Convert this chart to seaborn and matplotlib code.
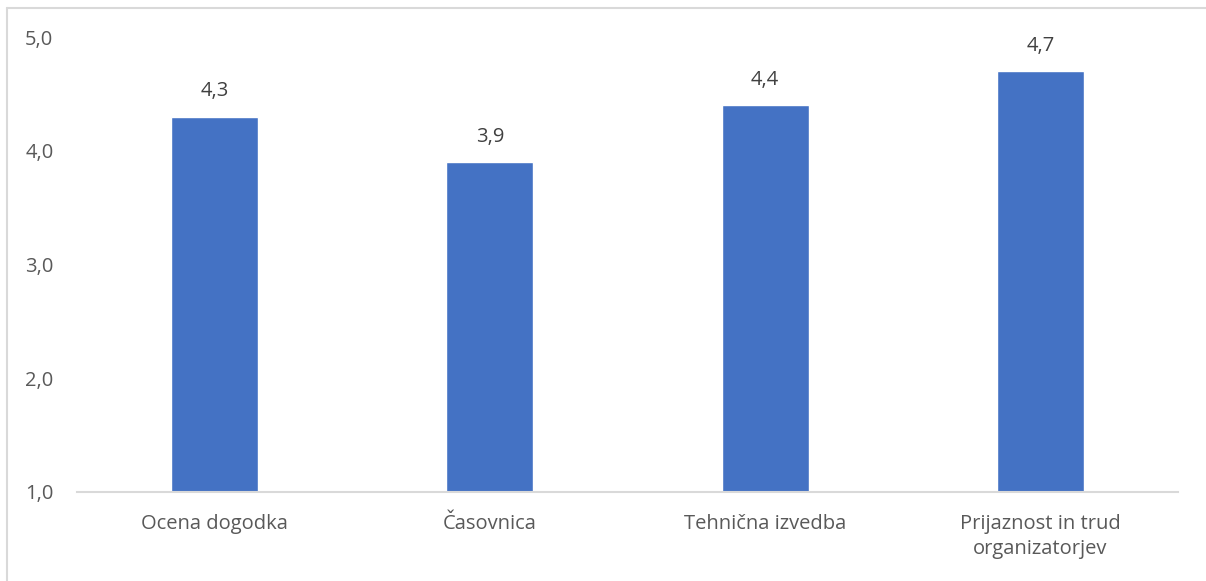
import matplotlib
matplotlib.use("Agg")
import matplotlib.pyplot as plt
import seaborn as sns
import pandas as pd
from matplotlib.ticker import FuncFormatter, FixedLocator
from matplotlib.lines import Line2D

categories = ["Ocena dogodka", "Časovnica", "Tehnična izvedba", "Prijaznost in trud\norganizatorjev"]
values = [4.3, 3.9, 4.4, 4.7]
yticks = [1.0, 2.0, 3.0, 4.0, 5.0]

sns.set_theme(style="white")
plt.rcParams['font.family'] = ['Open Sans', 'DejaVu Sans']

df = pd.DataFrame({"cat": categories, "val": values})

W, H = 1206, 581
fig = plt.figure(figsize=(W / 100, H / 100), dpi=100)
ax = fig.add_axes([77 / W, 1 - 492 / H, (1178 - 77) / W, (492 - 37) / H])

sns.barplot(data=df, x="cat", y="val", order=categories, color="#4472C4",
            saturation=1, width=0.316, ax=ax, bottom=0)

ax.set_ylim(1.0, 5.0)
ax.set_xlim(-0.5, len(categories) - 0.5)
ax.yaxis.set_major_locator(FixedLocator(yticks))
ax.yaxis.set_major_formatter(FuncFormatter(lambda v, p: f"{v:.1f}".replace(".", ",")))
ax.set_xlabel("")
ax.set_ylabel("")

FS = 14.5
for s in ["top", "right", "left"]:
    ax.spines[s].set_visible(False)
ax.spines["bottom"].set_color("#D9D9D9")
ax.spines["bottom"].set_linewidth(1.5)
ax.tick_params(axis="y", length=0, pad=17, labelsize=FS, labelcolor="#595959")
ax.tick_params(axis="x", length=0, pad=16, labelsize=FS, labelcolor="#595959")
for lbl in ax.get_xticklabels():
    lbl.set_linespacing(1.35)
    lbl.set_verticalalignment("top")

for i, v in enumerate(values):
    ax.annotate(f"{v:.1f}".replace(".", ","), xy=(i, v), xytext=(0, 11),
                textcoords="offset points", ha="center", va="bottom",
                fontsize=FS, color="#404040")

# outer chart frame (left and top edges visible)
fig.add_artist(Line2D([7 / W, 7 / W], [0, 1 - 8 / H], transform=fig.transFigure,
                      color="#D9D9D9", lw=1.5))
fig.add_artist(Line2D([7 / W, 1], [1 - 8 / H, 1 - 8 / H], transform=fig.transFigure,
                      color="#D9D9D9", lw=1.5))

fig.savefig("out.png", dpi=100, facecolor="white")
